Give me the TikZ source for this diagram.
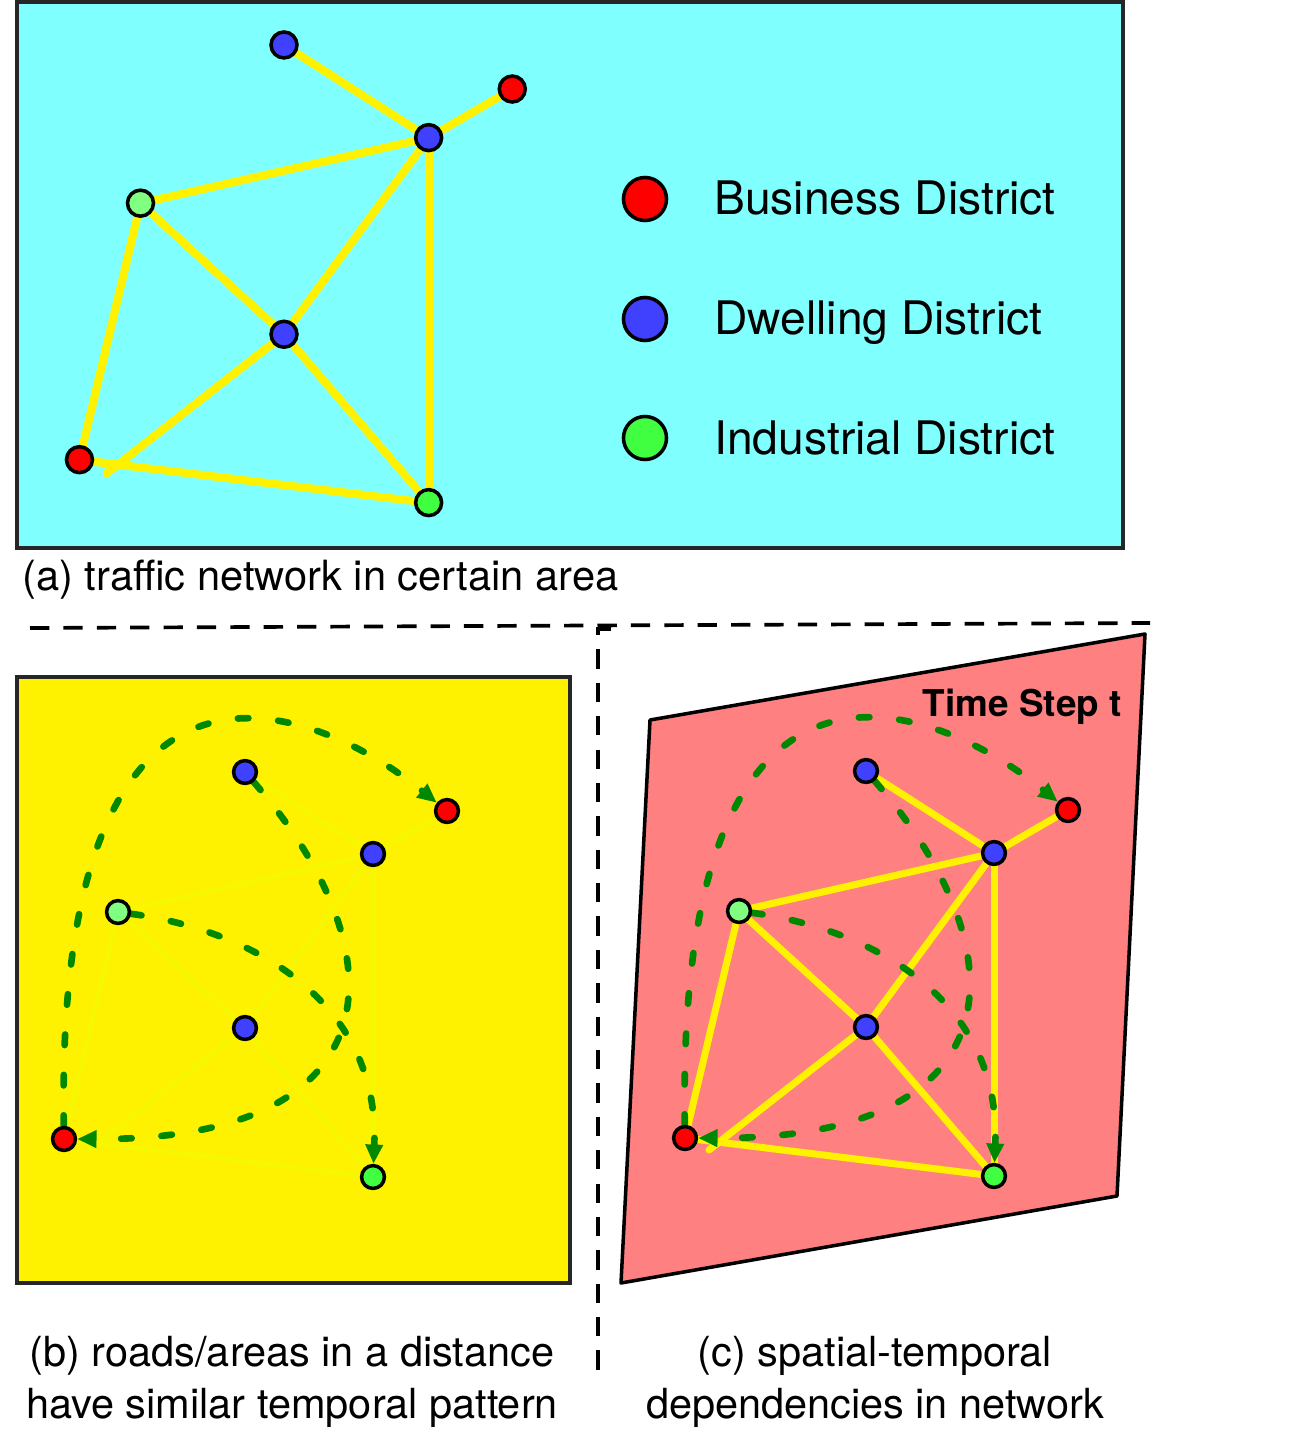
\documentclass[tikz,border=0pt]{standalone}
\usepackage{fontspec}
\setmainfont{TeX Gyre Heros}
\usetikzlibrary{arrows.meta}
\definecolor{cmint}{RGB}{128,255,255}
\definecolor{csalmon}{RGB}{255,128,128}
\definecolor{cbusi}{RGB}{255,0,0}
\definecolor{cdwell}{RGB}{64,64,255}
\definecolor{cindu}{RGB}{64,255,64}
\definecolor{cindul}{RGB}{128,255,128}
\definecolor{cflow}{RGB}{0,136,0}
\definecolor{cfaint}{RGB}{247,247,0}
\pgfdeclarelayer{panel}
\pgfdeclarelayer{edges}
\pgfsetlayers{panel,edges,main}

\begin{document}
\begin{tikzpicture}[x=0.02cm, y=0.02cm,
    district/.style={circle, draw=black, line width=2pt, inner sep=0pt, minimum size=13pt},
    road/.style={yellow, line width=4pt, line cap=round},
    faintroad/.style={cfaint, line width=3pt, line cap=round},
    flow/.style={cflow, line width=3.8pt, line cap=round, dash pattern=on 6pt off 17pt,
        -{Triangle[length=11pt, width=9.5pt]}},
    sep/.style={line width=2.1pt, dash pattern=on 11pt off 8pt},
    caption/.style={align=center, inner sep=0pt, font=\fontsize{23.6}{30}\selectfont}]

\useasboundingbox (0, 0) rectangle (1295, -1449);

% panels
\begin{pgfonlayer}{panel}
\draw [fill=cmint, line width=2pt, draw=black!85] (17, -2) rectangle (1123, -548);
\draw [fill=yellow, line width=2pt, draw=black!85] (17, -677) rectangle (570, -1283);
\draw [fill=csalmon, line width=2pt, line join=round] (650, -720) -- (1145, -634) -- (1117, -1196) -- (621, -1283) -- cycle;
\end{pgfonlayer}

\draw [sep] (30, -628) -- (1150, -623);
\draw [sep] (611, -629) -- (598, -629) -- (598, -1382);

% (a) traffic network
\begin{scope}[shift={(7.15, 827.4)}, scale=1.13]
\foreach \n/\x/\y/\c in {d1/245/772/cdwell, b1/447/811/cbusi, d2/373/854/cdwell, i1/118/912/cindul,
                         d3/245/1028/cdwell, b2/64/1139/cbusi, i2/373/1177/cindu}
    \node [district, minimum size=14.8pt, fill=\c] (a-\n) at (\x, -\y) {};
\coordinate (a-stub) at (88, -1151);
\begin{pgfonlayer}{edges}
\foreach \u/\v in {d1/d2, b1/d2, i1/d2, d2/d3, d2/i2, i1/d3, i1/b2, d3/stub, b2/i2, d3/i2}
    \draw [road, line width=4.6pt] (a-\u) -- (a-\v);
\end{pgfonlayer}
\end{scope}

\foreach \n/\y/\c/\t in {busi/199/cbusi/Business, dwell/319/cdwell/Dwelling, indu/438/cindu/Industrial} {
    \node [district, minimum size=24.5pt, fill=\c] (lg-\n) at (645, -\y) {};
    \node [anchor=base west, inner sep=0pt, font=\fontsize{26.3}{30}\selectfont] (lt-\n) at (714, {-\y-16}) {\t\ District};
}
\node [anchor=base west, inner sep=0pt, font=\fontsize{23.7}{30}\selectfont] (cap-a) at (22, -590) {(a) traffic network in certain area};

% (b) similar temporal pattern
\foreach \n/\x/\y/\c in {d1/245/772/cdwell, b1/447/811/cbusi, d2/373/854/cdwell, i1/118/912/cindul,
                         d3/245/1028/cdwell, b2/64/1139/cbusi, i2/373/1177/cindu}
    \node [district, fill=\c] (b-\n) at (\x, -\y) {};
\coordinate (b-stub) at (88, -1151);
\begin{pgfonlayer}{edges}
\foreach \u/\v in {d1/d2, b1/d2, i1/d2, d2/d3, d2/i2, i1/d3, i1/b2, d3/stub, b2/i2, d3/i2}
    \draw [faintroad] (b-\u) -- (b-\v);
\draw [flow] (b-b2) .. controls (55, -600) and (310, -700) .. (b-b1);
\draw [flow] (b-d1) .. controls (400, -950) and (400, -1140) .. (b-b2);
\draw [flow] (b-i1) .. controls (250, -930) and (380, -1000) .. (b-i2);
\end{pgfonlayer}
\node [caption] (cap-b) at (292, -1382) {(b) roads/areas in a distance\\have similar temporal pattern};

% (c) time step t
\begin{scope}[shift={(621, 1)}]
\foreach \n/\x/\y/\c in {d1/245/772/cdwell, b1/447/811/cbusi, d2/373/854/cdwell, i1/118/912/cindul,
                         d3/245/1028/cdwell, b2/64/1139/cbusi, i2/373/1177/cindu}
    \node [district, fill=\c] (c-\n) at (\x, -\y) {};
\coordinate (c-stub) at (88, -1151);
\begin{pgfonlayer}{edges}
\foreach \u/\v in {d1/d2, b1/d2, i1/d2, d2/d3, d2/i2, i1/d3, i1/b2, d3/stub, b2/i2, d3/i2}
    \draw [road] (c-\u) -- (c-\v);
\draw [flow] (c-b2) .. controls (55, -600) and (310, -700) .. (c-b1);
\draw [flow] (c-d1) .. controls (400, -950) and (400, -1140) .. (c-b2);
\draw [flow] (c-i1) .. controls (250, -930) and (380, -1000) .. (c-i2);
\end{pgfonlayer}
\end{scope}
\node [anchor=base east, inner sep=0pt, font=\fontsize{21}{25}\selectfont\bfseries] (tstep) at (1122, -716) {Time Step t};
\node [caption] (cap-c) at (875, -1382) {(c) spatial-temporal\\dependencies in network};

\end{tikzpicture}
\end{document}
